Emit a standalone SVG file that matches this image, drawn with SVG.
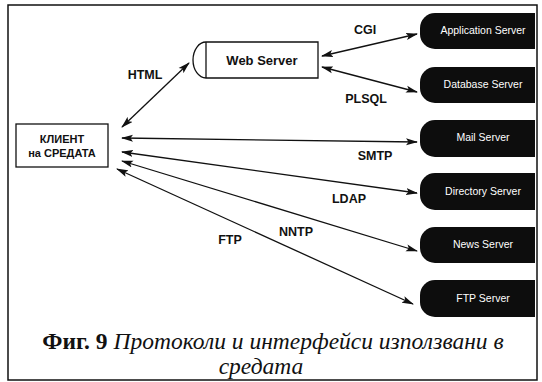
<svg xmlns="http://www.w3.org/2000/svg" width="542" height="382" viewBox="0 0 542 382">
<defs>
<marker id="ah" viewBox="0 0 12 8" refX="11" refY="4" markerWidth="12" markerHeight="8" markerUnits="userSpaceOnUse" orient="auto-start-reverse">
<path d="M0,0.5 L12,4 L0,7.5 L2.5,4 Z" fill="#111"/>
</marker>
</defs>
<style>
.lbl{font-family:"Liberation Sans",Arial,sans-serif;font-weight:bold;font-size:12.5px;fill:#111}
.srv{fill:#0d0d0d}
.srvt{font-family:"Liberation Sans",Arial,sans-serif;font-size:10.5px;fill:#fff;text-anchor:middle}
.con{stroke:#111;stroke-width:1.3;fill:none;marker-start:url(#ah);marker-end:url(#ah)}
.cap{font-family:"Liberation Serif","Times New Roman",serif;font-size:23.5px;fill:#111}
</style>
<rect x="0" y="0" width="542" height="382" fill="#fff"/>
<rect x="8" y="5" width="529" height="375" fill="none" stroke="#111" stroke-width="1.5"/>

<g id="client">
<rect x="16" y="124" width="92" height="43" fill="#fff" stroke="#111" stroke-width="1.3"/>
<text x="62" y="143" class="lbl" text-anchor="middle" style="font-size:11px">КЛИЕНТ</text>
<text x="62" y="157" class="lbl" text-anchor="middle" style="font-size:11px">на СРЕДАТА</text>
</g>

<g id="webserver">
<path d="M206,42 H318 V78 H206 A13,18 0 0 1 206,42 Z" fill="#fff" stroke="#111" stroke-width="1.3"/>
<line x1="206" y1="42" x2="206" y2="78" stroke="#111" stroke-width="1.3"/>
<text x="262" y="65" class="lbl" text-anchor="middle" style="font-size:13px">Web Server</text>
</g>

<g id="appserver">
<path class="srv" d="M435,13 H535 V49 H435 A15,15 0 0 1 420,34 V28 A15,15 0 0 1 435,13 Z"/>
<text x="483" y="34" class="srvt">Application Server</text>
</g>
<g id="dbserver">
<path class="srv" d="M435,67 H535 V103 H435 A15,15 0 0 1 420,88 V82 A15,15 0 0 1 435,67 Z"/>
<text x="483" y="88" class="srvt">Database Server</text>
</g>
<g id="mailserver">
<path class="srv" d="M435,120 H535 V157 H435 A15,15 0 0 1 420,142 V135 A15,15 0 0 1 435,120 Z"/>
<text x="483" y="141" class="srvt">Mail Server</text>
</g>
<g id="dirserver">
<path class="srv" d="M435,173 H535 V210 H435 A15,15 0 0 1 420,195 V188 A15,15 0 0 1 435,173 Z"/>
<text x="483" y="195" class="srvt">Directory Server</text>
</g>
<g id="newsserver">
<path class="srv" d="M435,227 H535 V263 H435 A15,15 0 0 1 420,248 V242 A15,15 0 0 1 435,227 Z"/>
<text x="483" y="248" class="srvt">News Server</text>
</g>
<g id="ftpserver">
<path class="srv" d="M435,280 H535 V317 H435 A15,15 0 0 1 420,302 V295 A15,15 0 0 1 435,280 Z"/>
<text x="483" y="302" class="srvt">FTP Server</text>
</g>

<g id="connectors">
<line class="con" x1="122" y1="127" x2="189" y2="63"/>
<line class="con" x1="322" y1="56" x2="417" y2="34"/>
<line class="con" x1="322" y1="67" x2="417" y2="92"/>
<line class="con" x1="122" y1="138" x2="417" y2="142"/>
<line class="con" x1="122" y1="152" x2="417" y2="193"/>
<line class="con" x1="122" y1="161" x2="417" y2="251"/>
<line class="con" x1="117" y1="169" x2="413" y2="304"/>
<text x="145" y="79" class="lbl" text-anchor="middle">HTML</text>
<text x="365" y="34" class="lbl" text-anchor="middle">CGI</text>
<text x="366" y="103" class="lbl" text-anchor="middle">PLSQL</text>
<text x="375" y="160" class="lbl" text-anchor="middle">SMTP</text>
<text x="349" y="203" class="lbl" text-anchor="middle">LDAP</text>
<text x="296" y="236" class="lbl" text-anchor="middle">NNTP</text>
<text x="230" y="244" class="lbl" text-anchor="middle">FTP</text>
</g>

<text x="273" y="349" class="cap" text-anchor="middle"><tspan font-weight="bold">Фиг. 9</tspan> <tspan font-style="italic">Протоколи и интерфейси използвани в</tspan></text>
<text x="261" y="374" class="cap" text-anchor="middle" font-style="italic">средата</text>
</svg>
